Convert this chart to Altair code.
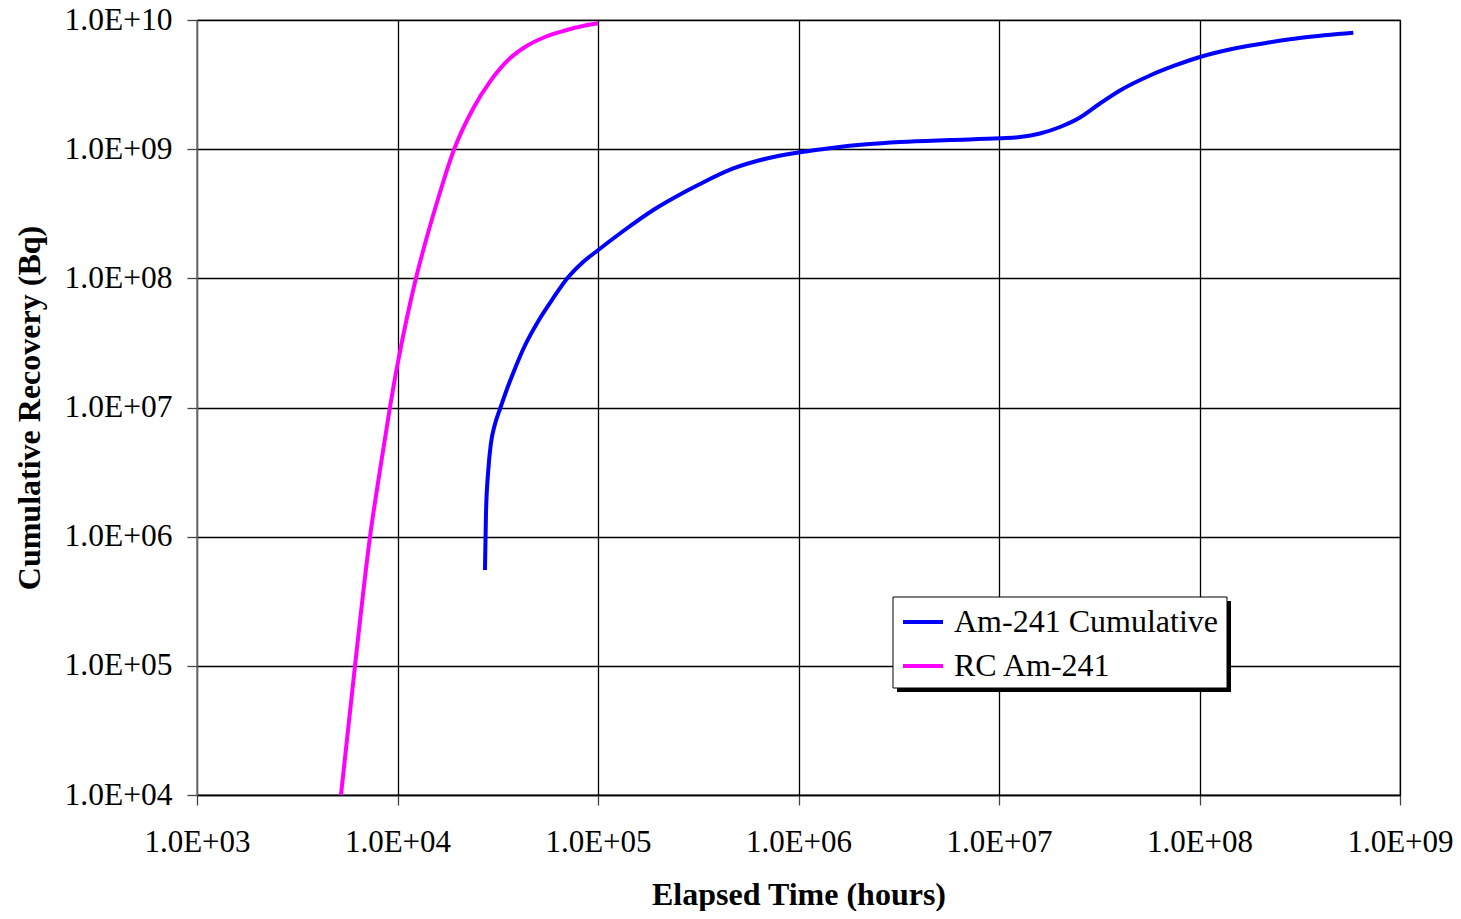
import altair as alt
import pandas as pd

# Am-241 Cumulative (blue) -- elapsed time (hours), cumulative recovery (Bq)
am_time = [2.73e4, 2.763e4, 2.837e4, 2.926e4, 3.064e4, 3.264e4, 3.517e4, 3.811e4, 4.241e4,
           5.137e4, 5.985e4, 7.03e4, 8.321e4, 1.003e5, 1.337e5, 1.887e5, 2.564e5, 3.227e5,
           4.729e5, 6.94e5, 1.017e6, 1.491e6, 2.188e6, 3.208e6, 5.697e6, 1.012e7, 1.273e7,
           1.601e7, 2.015e7, 2.535e7, 3.189e7, 4.013e7, 5.664e7, 7.547e7, 1.006e8, 1.532e8,
           2.247e8, 3.294e8, 5.85e8]
am_value = [5.52e5, 1.525e6, 3.282e6, 5.31e6, 7.45e6, 1.0e7, 1.391e7, 1.917e7, 2.838e7,
            4.904e7, 7.043e7, 1.0e8, 1.314e8, 1.658e8, 2.325e8, 3.382e8, 4.459e8, 5.374e8,
            7.087e8, 8.469e8, 9.458e8, 1.027e9, 1.091e9, 1.136e9, 1.178e9, 1.214e9, 1.242e9,
            1.322e9, 1.485e9, 1.759e9, 2.257e9, 2.846e9, 3.718e9, 4.444e9, 5.172e9, 6.07e9,
            6.72e9, 7.318e9, 7.977e9]

# RC Am-241 (magenta)
rc_time = [5.225e3, 6.138e3, 7.293e3, 8.178e3, 9.176e3, 1.009e4, 1.111e4, 1.237e4, 1.345e4,
           1.592e4, 1.902e4, 2.388e4, 2.892e4, 3.64e4, 4.324e4, 5.441e4, 6.846e4, 8.614e4, 1.0e5]
rc_value = [1e4, 1e5, 1e6, 3.282e6, 1.009e7, 2.312e7, 4.844e7, 1.006e8, 1.658e8,
            4.114e8, 9.68e8, 2.072e9, 3.329e9, 5.052e9, 6.18e9, 7.384e9, 8.295e9, 9.066e9, 9.43e9]

series_names = ["Am-241 Cumulative", "RC Am-241"]
series_colors = ["#0000FF", "#FF00FF"]
x_ticks = [1e3, 1e4, 1e5, 1e6, 1e7, 1e8, 1e9]
y_ticks = [1e4, 1e5, 1e6, 1e7, 1e8, 1e9, 1e10]

df = pd.concat([
    pd.DataFrame({"t": am_time, "v": am_value, "s": series_names[0], "o": range(len(am_time))}),
    pd.DataFrame({"t": rc_time, "v": rc_value, "s": series_names[1], "o": range(len(rc_time))}),
])

lab = "'1.0E+' + (round(log(datum.value)/LN10) < 10 ? '0' : '') + round(log(datum.value)/LN10)"
FONT = "Liberation Serif"

lines = alt.Chart(df).mark_line(strokeWidth=4, interpolate="monotone").encode(
    x=alt.X("t:Q", scale=alt.Scale(type="log", domain=[1e3, 1e9], nice=False),
            axis=alt.Axis(values=x_ticks, labelExpr=lab, title="Elapsed Time (hours)",
                          titlePadding=22, labelPadding=22, labelFontSize=31)),
    y=alt.Y("v:Q", scale=alt.Scale(type="log", domain=[1e4, 1e10], nice=False),
            axis=alt.Axis(values=y_ticks, labelExpr=lab, title="Cumulative Recovery (Bq)",
                          titlePadding=18, labelPadding=15, domainColor="#666666")),
    color=alt.Color("s:N", scale=alt.Scale(domain=series_names, range=series_colors),
                    legend=alt.Legend(title=None, orient="none", legendX=694, legendY=570,
                                      padding=10, rowPadding=6, symbolType="stroke",
                                      symbolSize=1600, symbolStrokeWidth=4, labelOffset=9,
                                      labelLimit=0, labelFont=FONT, labelFontSize=32,
                                      labelColor="black")),
    order="o:Q",
)

# legend frame with drop shadow (decoration)
deco = pd.DataFrame({"k": [0]})
shadow = alt.Chart(deco).mark_rect(color="black").encode(
    x=alt.value(700), x2=alt.value(1034), y=alt.value(581), y2=alt.value(672)
)
frame = alt.Chart(deco).mark_rect(fill="white", stroke="black", strokeWidth=1).encode(
    x=alt.value(696), x2=alt.value(1030), y=alt.value(577), y2=alt.value(668)
)

chart = alt.layer(lines, shadow, frame).properties(
    width=1203, height=775,
    background="white",
    autosize=alt.AutoSizeParams(type="none"),
    padding={"left": 189, "top": 12, "right": 53, "bottom": 116},
).configure_view(stroke="black", strokeWidth=1.2).configure_axis(
    labelFont=FONT, labelFontSize=31.5, labelColor="black",
    titleFont=FONT, titleFontSize=32, titleFontWeight="bold", titleColor="black",
    grid=True, gridColor="black", gridWidth=1.3, gridOpacity=1,
    tickColor="#444444", tickSize=10, tickWidth=1.3,
    domainColor="black", domainWidth=1.3, labelFlush=False, labelOverlap=False,
)

chart.save("out.html", embed_options={"renderer": "svg", "actions": False})
